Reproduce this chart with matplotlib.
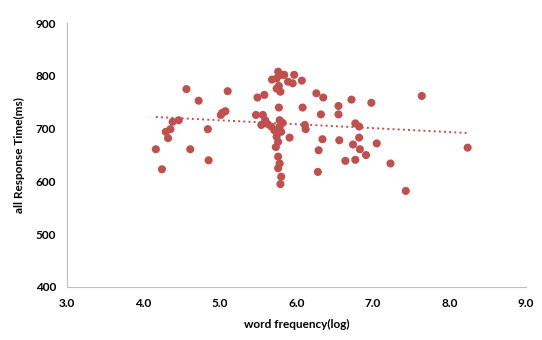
import numpy as np
import matplotlib.pyplot as plt

plt.rcParams['font.family'] = ['Lato', 'DejaVu Sans']

freq = [4.16, 4.24, 4.29, 4.32, 4.35, 4.38, 4.46, 4.56, 4.61, 4.72, 4.84, 4.85,
        5.01, 5.03, 5.07, 5.10,
        5.47, 5.49, 5.58, 5.56, 5.59, 5.54, 5.68, 5.74, 5.76, 5.80, 5.74, 5.77,
        5.79, 5.77, 5.78, 5.67, 5.71, 5.78, 5.80, 5.74, 5.76, 5.73, 5.76, 5.78,
        5.76, 5.80, 5.79, 5.62, 5.82,
        5.84, 5.89, 5.95, 5.97, 6.07, 6.08, 6.11, 6.12, 5.91, 6.26, 6.35, 6.32,
        6.34, 6.29, 6.28,
        6.55, 6.55, 6.56, 6.64, 6.72, 6.77, 6.82, 6.82, 6.74, 6.83, 6.77, 6.91,
        6.98, 7.05, 7.23, 7.43, 7.64, 8.24]
rt = [661, 623, 694, 682, 699, 713, 716, 775, 661, 753, 699, 640,
      726, 730, 733, 771,
      726, 759, 764, 726, 716, 707, 793, 795, 808, 802, 776, 781,
      770, 740, 716, 704, 697, 704, 694, 685, 675, 665, 647, 634,
      625, 609, 595, 709, 711,
      802, 789, 786, 802, 791, 740, 707, 699, 683, 767, 759, 727,
      680, 659, 618,
      743, 727, 678, 639, 755, 710, 704, 683, 670, 661, 641, 650,
      749, 672, 634, 582, 762, 664]

red = '#C0504D'

fig = plt.figure(figsize=(5.42, 3.40), dpi=100)
ax = fig.add_axes([0.124, 0.156, 0.846, 0.776])

ax.scatter(freq, rt, s=34, color=red, edgecolors='none', zorder=3)

# linear trend line over the data range
k, b = np.polyfit(freq, rt, 1)
xs = np.array([min(freq), max(freq)])
ax.plot(xs, k * xs + b, linestyle=':', color=red, linewidth=1.4, zorder=2)

ax.set_xlim(3, 9)
ax.set_ylim(400, 900)
ax.set_xticks(np.arange(3, 9.1, 1))
ax.set_xticklabels(['%.1f' % v for v in np.arange(3, 9.1, 1)])
ax.set_yticks(range(400, 901, 100))

for s in ['top', 'right']:
    ax.spines[s].set_visible(False)
for s in ['left', 'bottom']:
    ax.spines[s].set_color('#BFBFBF')
    ax.spines[s].set_linewidth(0.8)
ax.tick_params(length=0, labelsize=8.5, pad=8)
for lab in ax.get_xticklabels() + ax.get_yticklabels():
    lab.set_fontweight('bold')

ax.set_xlabel('word frequency(log)', fontsize=8.5, fontweight='bold', labelpad=7)
ax.set_ylabel('all Response Time(ms)', fontsize=8.5, fontweight='bold', labelpad=8)

fig.savefig('out.png', dpi=100)
